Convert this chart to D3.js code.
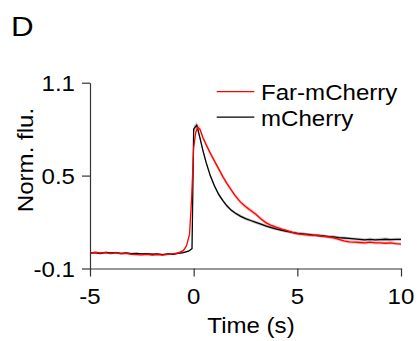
<!DOCTYPE html>
<html>
<head>
<meta charset="utf-8">
<script src="https://cdn.jsdelivr.net/npm/d3@7"></script>
<style>
  html, body { margin: 0; padding: 0; background: #fff; }
  svg text { font-family: "Liberation Sans", Arial, Helvetica, sans-serif; fill: #000; }
</style>
</head>
<body>
<svg id="chart" width="419" height="341"></svg>
<script>
// ---- Data ----
const xTicks = [-5, 0, 5, 10];
const yTicks = [-0.1, 0.5, 1.1];
const xTickLabels = ["-5", "0", "5", "10"];
const yTickLabels = ["-0.1", "0.5", "1.1"];
const seriesNames = ["Far-mCherry", "mCherry"];

const farT = [-5, -4.75, -4.5, -4.25, -4, -3.75, -3.5, -3.25, -3, -2.75, -2.5, -2.25, -2, -1.75, -1.5, -1.25, -1, -0.75, -0.5, -0.35, -0.2, -0.1, 0.0, 0.1, 0.2, 0.3, 0.45, 0.6, 0.8, 1.0, 1.2, 1.4, 1.6, 1.8, 2.0, 2.25, 2.5, 2.75, 3.0, 3.25, 3.5, 3.75, 4.0, 4.25, 4.5, 4.75, 5.0, 5.25, 5.5, 5.75, 6.0, 6.25, 6.5, 6.75, 7.0, 7.25, 7.5, 7.75, 8.0, 8.25, 8.5, 8.75, 9.0, 9.25, 9.5, 9.75, 10.0];
const farV = [-0.002, 0.005, 0.0, 0.003, -0.004, 0.002, -0.006, -0.002, -0.008, -0.01, -0.012, -0.008, -0.013, -0.01, -0.014, -0.008, -0.005, 0.0, 0.015, 0.045, 0.12, 0.35, 0.68, 0.78, 0.812, 0.8, 0.745, 0.7, 0.645, 0.595, 0.545, 0.495, 0.45, 0.41, 0.37, 0.33, 0.3, 0.275, 0.25, 0.22, 0.195, 0.178, 0.165, 0.154, 0.144, 0.134, 0.125, 0.121, 0.117, 0.115, 0.113, 0.108, 0.104, 0.098, 0.088, 0.078, 0.072, 0.07, 0.068, 0.066, 0.07, 0.065, 0.066, 0.063, 0.066, 0.061, 0.058];
const farErr = [0.006, 0.006, 0.006, 0.006, 0.006, 0.006, 0.006, 0.006, 0.006, 0.006, 0.006, 0.006, 0.006, 0.006, 0.006, 0.006, 0.006, 0.006, 0.008, 0.01, 0.012, 0.015, 0.018, 0.018, 0.018, 0.018, 0.016, 0.015, 0.015, 0.015, 0.015, 0.015, 0.015, 0.015, 0.015, 0.014, 0.014, 0.013, 0.013, 0.012, 0.012, 0.011, 0.011, 0.01, 0.01, 0.01, 0.01, 0.01, 0.01, 0.01, 0.01, 0.01, 0.01, 0.01, 0.01, 0.01, 0.01, 0.01, 0.01, 0.01, 0.01, 0.01, 0.01, 0.01, 0.01, 0.01, 0.01];

const mchT = [-5, -4.75, -4.5, -4.25, -4, -3.75, -3.5, -3.25, -3, -2.75, -2.5, -2.25, -2, -1.75, -1.5, -1.25, -1, -0.75, -0.5, -0.25, -0.08, 0.0, 0.08, 0.15, 0.3, 0.45, 0.6, 0.8, 1.0, 1.2, 1.4, 1.6, 1.8, 2.0, 2.25, 2.5, 2.75, 3.0, 3.25, 3.5, 3.75, 4.0, 4.25, 4.5, 4.75, 5.0, 5.25, 5.5, 5.75, 6.0, 6.25, 6.5, 6.75, 7.0, 7.25, 7.5, 7.75, 8.0, 8.25, 8.5, 8.75, 9.0, 9.25, 9.5, 9.75, 10.0];
const mchV = [0.0, 0.002, -0.003, 0.004, 0.0, 0.003, -0.002, 0.0, -0.004, -0.002, -0.006, -0.004, -0.008, -0.006, -0.01, -0.006, -0.008, -0.002, 0.002, 0.012, 0.028, 0.8, 0.815, 0.826, 0.745, 0.66, 0.585, 0.5, 0.435, 0.38, 0.34, 0.305, 0.278, 0.258, 0.238, 0.222, 0.21, 0.198, 0.186, 0.174, 0.164, 0.155, 0.147, 0.14, 0.133, 0.127, 0.124, 0.12, 0.116, 0.113, 0.11, 0.106, 0.104, 0.1, 0.097, 0.094, 0.091, 0.088, 0.085, 0.088, 0.085, 0.087, 0.089, 0.086, 0.088, 0.088];
const mchErr = [0.005, 0.005, 0.005, 0.005, 0.005, 0.005, 0.005, 0.005, 0.005, 0.005, 0.005, 0.005, 0.005, 0.005, 0.005, 0.005, 0.005, 0.005, 0.005, 0.005, 0.006, 0.02, 0.02, 0.02, 0.018, 0.016, 0.014, 0.013, 0.012, 0.012, 0.011, 0.011, 0.01, 0.01, 0.01, 0.01, 0.01, 0.01, 0.01, 0.01, 0.01, 0.01, 0.01, 0.01, 0.01, 0.01, 0.01, 0.01, 0.01, 0.01, 0.01, 0.01, 0.01, 0.01, 0.01, 0.01, 0.01, 0.01, 0.011, 0.011, 0.011, 0.011, 0.011, 0.011, 0.011, 0.011];

// ---- Drawing ----
const svg = d3.select("#chart");
const FS = 21.5;      // font size
const SX = 1.12;      // horizontal stretch of the reference text
const axisColor = "#333";

const x = d3.scaleLinear().domain([-5, 10]).range([90, 401]);
const y = d3.scaleLinear().domain([-0.1, 1.1]).range([268.5, 82.7]);

function rows(T, V, E) { return T.map((t, i) => ({ t: t, v: V[i], e: E[i] })); }
const far = rows(farT, farV, farErr);
const mch = rows(mchT, mchV, mchErr);

const area = d3.area().x(d => x(d.t)).y0(d => y(d.v - d.e)).y1(d => y(d.v + d.e));
const line = d3.line().x(d => x(d.t)).y(d => y(d.v));

function label(px, py, str, anchor, size, rot) {
  return svg.append("text")
    .attr("transform", `translate(${px},${py})` + (rot ? ` rotate(${rot})` : "") + ` scale(${SX},1)`)
    .attr("text-anchor", anchor || "start")
    .attr("font-size", size || FS)
    .text(str);
}

// bands
svg.append("path").datum(mch).attr("d", area).attr("fill", "rgba(0,0,0,0.22)");
svg.append("path").datum(far).attr("d", area).attr("fill", "rgba(255,0,0,0.25)");
// lines
svg.append("path").datum(mch).attr("d", line).attr("fill", "none").attr("stroke", "#000").attr("stroke-width", 1.3);
svg.append("path").datum(far).attr("d", line).attr("fill", "none").attr("stroke", "#ff0000").attr("stroke-width", 1.3);

// axes (lines + ticks from d3 axes; labels drawn with stretch)
const xAxis = d3.axisBottom(x).tickValues(xTicks).tickSize(8).tickSizeOuter(0).tickFormat("");
const yAxis = d3.axisLeft(y).tickValues(yTicks).tickSize(8).tickSizeOuter(0).tickFormat("");

const gx = svg.append("g").attr("transform", `translate(0,${y(-0.1)})`).call(xAxis);
const gy = svg.append("g").attr("transform", `translate(${x(-5)},0)`).call(yAxis);
[gx, gy].forEach(g => {
  g.select(".domain").attr("stroke", axisColor).attr("stroke-width", 1.2);
  g.selectAll(".tick line").attr("stroke", axisColor).attr("stroke-width", 1.2);
});

xTicks.forEach((t, i) => label(x(t), 303.5, xTickLabels[i], "middle"));
yTicks.forEach((v, i) => label(75, y(v) + 8.5, yTickLabels[i], "end"));

// axis titles
label(251, 333, "Time (s)", "middle");
label(33, 160, "Norm. flu.", "middle", FS, -90);

// panel label
label(11, 36, "D", "start", 28);

// legend
const legColors = ["#ff0000", "#000"];
seriesNames.forEach((name, i) => {
  const ly = 91.7 + i * 25.5;
  svg.append("line").attr("x1", 216.7).attr("x2", 254.3).attr("y1", ly).attr("y2", ly).attr("stroke", legColors[i]).attr("stroke-width", 1.3);
  label(261, ly + 8.3, name, "start");
});
</script>
</body>
</html>
